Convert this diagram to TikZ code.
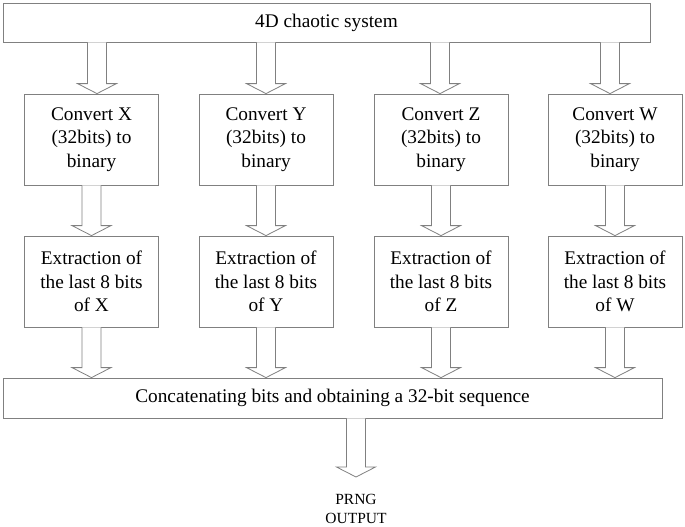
\documentclass[tikz,border=0pt]{standalone}
\usepackage{fontspec}
\setmainfont{Liberation Serif}
\usetikzlibrary{calc}
\definecolor{edge}{RGB}{128,128,128}
\newcommand\barrow[2]{\draw[arr] let \p1=#1, \p2=#2 in
  (\x1-9.5pt,\y1) -- (\x1-9.5pt,\y2+10pt) -- (\x1-19.5pt,\y2+10pt) -- (\x1,\y2)
  -- (\x1+19.5pt,\y2+10pt) -- (\x1+9.5pt,\y2+10pt) -- (\x1+9.5pt,\y1);}
\begin{document}
\begin{tikzpicture}[x=1pt,y=-1pt,
  box/.style={draw=edge,line width=0.8pt,fill=white,inner sep=0pt,align=center,
    font=\fontsize{19.3}{23.3}\selectfont},
  arr/.style={draw=edge,line width=0.8pt,fill=white},
  lbl/.style={inner sep=0pt,align=center,font=\fontsize{15.5}{19}\selectfont}]
\useasboundingbox (0,0) rectangle (685,527);
\node[box,minimum width=647,minimum height=39] (top) at (326.5,22.5) {4D chaotic system};
\foreach \i/\x/\v in {1/91.5/X,2/266/Y,3/441/Z,4/615/W}{
  \node[box,minimum width=134,minimum height=91] (c\i) at (\x,139.5) {Convert \v\\(32bits) to\\binary};
  \node[box,minimum width=134,minimum height=91] (e\i) at (\x,281.5) {Extraction of\\the last 8 bits\\of \v};
}
\node[box,minimum width=659,minimum height=40] (bot) at (332.5,398) {Concatenating bits and obtaining a 32-bit sequence};
\node[lbl] (out) at (356,509) {PRNG\\OUTPUT};
\coordinate (tip) at (356,477);
% row 1
\barrow{($(top.south -| c1.north)+(5.5,0)$)}{($(c1.north)+(5.5,0)$)}
\barrow{(top.south -| c2.north)}{(c2.north)}
\barrow{($(top.south -| c3.north)+(-1,0)$)}{($(c3.north)+(-1,0)$)}
\barrow{($(top.south -| c4.north)+(-5,0)$)}{($(c4.north)+(-5,0)$)}
% rows 2 and 3
\foreach \i in {1,2,3,4}{
  \barrow{(c\i.south)}{(e\i.north)}
  \barrow{(e\i.south)}{(bot.north -| e\i.south)}
}
% output
\barrow{(bot.south -| tip)}{(tip)}
\end{tikzpicture}
\end{document}
